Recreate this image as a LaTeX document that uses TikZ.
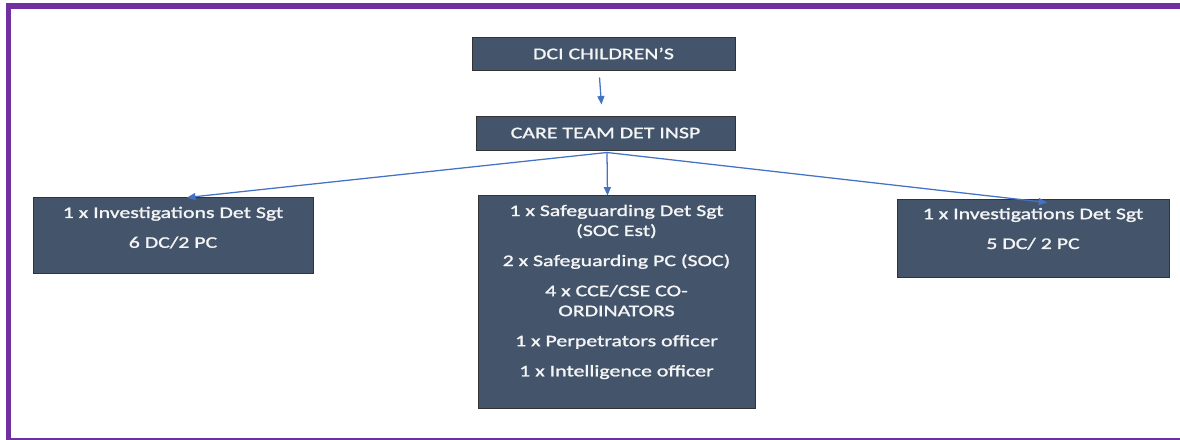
\documentclass[tikz,border=0pt]{standalone}
\usepackage{fontspec}
\setmainfont{Carlito}[FakeStretch=1.35,FakeBold=1.4]
\usetikzlibrary{positioning,calc,arrows.meta}
\definecolor{slate}{HTML}{44546A}
\definecolor{linkblue}{HTML}{4472C4}
\definecolor{framepurple}{HTML}{7030A0}
\newcommand\pxu{0.025cm}
\tikzset{
  post/.style={draw=black!80, fill=slate, line width=0.7pt, inner sep=0pt},
  posttext/.style={text=white!94!slate, font=\fontsize{11.5}{14.2}\selectfont, align=center, inner sep=0pt},
  link/.style={draw=linkblue, line width=0.9pt, -{Triangle[length=6pt,width=5pt]}}
}
\begin{document}
\begin{tikzpicture}[x=0.025cm, y=-0.025cm]
\useasboundingbox (0,0) rectangle (1180,440);
% frame
\fill[framepurple] (6,3) rectangle (1180,9);
\fill[framepurple] (6,3) rectangle (11,440);
\fill[framepurple] (6,437.5) rectangle (1180,440);

\node[post, posttext, minimum width=263*\pxu, minimum height=33*\pxu] (dci) at (603.5,53.5) {DCI CHILDREN’S};
\node[post, posttext, minimum width=259*\pxu, minimum height=34*\pxu] (care) at (605.5,133) {CARE TEAM DET INSP};
\node[post, minimum width=280*\pxu, minimum height=76*\pxu] (inv1) at (173,235) {};
\node[post, minimum width=277*\pxu, minimum height=213*\pxu] (safe) at (616.5,301.5) {};
\node[post, minimum width=272*\pxu, minimum height=78*\pxu] (inv2) at (1033,238) {};

\node[posttext, below=0.25cm of inv1.north] (inv1txt) {1 x Investigations Det Sgt\\[7pt]6 DC/2 PC};
\node[posttext, below=0.25cm of safe.north] (safetxt) {1 x Safeguarding Det Sgt\\(SOC Est)\\[7.2pt]
  2 x Safeguarding PC (SOC)\\[7.2pt]4 x CCE/CSE CO-\\ORDINATORS\\[7.2pt]
  1 x Perpetrators officer\\[7.2pt]1 x Intelligence officer};
\node[posttext, below=0.23cm of inv2.north] (inv2txt) {1 x Investigations Det Sgt\\[7pt]5 DC/ 2 PC};

\coordinate (fork) at ($(care.south)+(1.5,2)$);
\draw[link] ($(dci.south)+(-4,7)$) -- ($(care.north)+(-4,-11)$);
\draw[link] (fork) -- ($(inv1.north)+(14,1)$);
\draw[link] (fork) -- ($(safe.north)+(-9,1)$);
\draw[link] (fork) -- ($(inv2.north)+(14,4)$);
\end{tikzpicture}
\end{document}
